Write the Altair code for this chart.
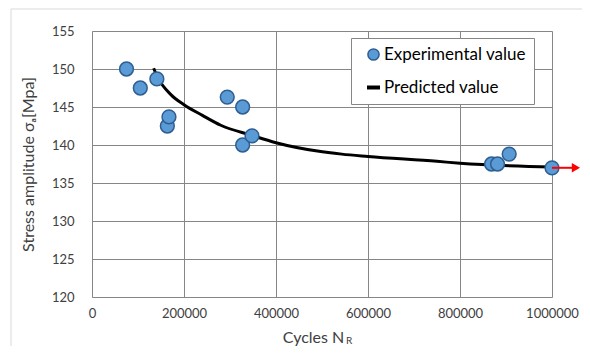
import altair as alt
import pandas as pd

# Experimental points (cycles, stress amplitude)
exp_cycles = [75000, 105000, 141000, 163800, 167300, 294000, 327500, 327500, 347800,
              868600, 881600, 906900, 1000000]
exp_stress = [150.0, 147.5, 148.7, 142.5, 143.7, 146.3, 145.0, 140.0, 141.2,
              137.5, 137.5, 138.8, 137.0]

# Predicted curve
pred_cycles = [134000, 143700, 172000, 200000, 240000, 280000, 345700, 400000,
               490000, 543000, 600000, 750000, 800000, 1000000]
pred_stress = [150.1, 148.8, 146.6, 145.3, 143.9, 142.6, 141.3, 140.3,
               139.2, 138.8, 138.5, 137.85, 137.6, 137.1]

# Run-out arrow
arrow_start = [1000000]
arrow_end = [1052000]
arrow_stress = [137.0]

series_names = ["Experimental value", "Predicted value"]
y_ticks = [120, 125, 130, 135, 140, 145, 150, 155]
x_ticks = [0, 200000, 400000, 600000, 800000, 1000000]

FONT = "Lato"
GRID = "#868686"
TXT = "#404040"
BLUE = "#5B9BD5"
DBLUE = "#2E5E92"

exp_df = pd.DataFrame({"N": exp_cycles, "S": exp_stress})
pred_df = pd.DataFrame({"N": pred_cycles, "S": pred_stress})
leg_df = pd.DataFrame({"N": [exp_cycles[0], pred_cycles[0]],
                       "S": [exp_stress[0], pred_stress[0]],
                       "series": series_names})
arrow_df = pd.DataFrame({"N": arrow_start, "N2": arrow_end, "S": arrow_stress})
one = pd.DataFrame({"a": [0]})

xscale = alt.Scale(domain=[0, 1000000], nice=False, zero=False)
yscale = alt.Scale(domain=[120, 155], nice=False, zero=False)

xaxis = alt.Axis(values=x_ticks, format="d", grid=True, gridColor=GRID, gridWidth=1,
                 ticks=False, domain=False, labelFont=FONT, labelFontSize=13,
                 labelColor=TXT, labelPadding=10, labelBaseline="top",
                 labelFlush=False, labelOverlap=False, labelBound=False,
                 title="Cycles N", titleFont=FONT, titleFontSize=16, titleFontWeight="normal",
                 titleColor=TXT, titleX=221, titleY=45, titleAlign="center",
                 titleBaseline="alphabetic")
yaxis = alt.Axis(values=y_ticks, grid=True, gridColor=GRID, gridWidth=1,
                 ticks=False, domain=False, labelFont=FONT, labelFontSize=13,
                 labelColor=TXT, labelPadding=18, labelOverlap=False, labelFlush=False,
                 labelBound=False,
                 title="Stress amplitude σₐ[Mpa]", titleFont=FONT, titleFontSize=16,
                 titleFontWeight="normal", titleColor=TXT, titleX=-64, titleY=133,
                 titleAlign="center", titleBaseline="middle", titleAngle=-90)

X = alt.X("N:Q", scale=xscale, axis=xaxis)
Y = alt.Y("S:Q", scale=yscale, axis=yaxis)

is_pred = "datum.value === 'Predicted value'"
legend = alt.Legend(
    orient="none", legendX=259, legendY=7, title=None,
    strokeColor=GRID, fillColor="white", padding=8, cornerRadius=0,
    labelFont=FONT, labelFontSize=17, labelColor="black", labelOffset=2,
    rowPadding=14, symbolOffset=6, symbolOpacity=1,
    symbolStrokeWidth={"expr": f"{is_pred} ? 4 : 1.5"},
    symbolSize={"expr": f"{is_pred} ? 170 : 125"},
)

border = alt.Chart(one).mark_rect(fill=None, stroke="#D9D9D9", strokeWidth=1).encode(
    x=alt.value(-81), x2=alt.value(700), y=alt.value(-22), y2=alt.value(500))

line = alt.Chart(pred_df).mark_line(color="black", strokeWidth=3, interpolate="monotone").encode(
    x=X, y=Y)

pts = alt.Chart(exp_df).mark_point(filled=True, size=190, opacity=1, color=BLUE,
                                   stroke=DBLUE, strokeWidth=1.5).encode(x=X, y=Y)

# invisible layer that only drives the legend
leg = alt.Chart(leg_df).mark_point(filled=False, opacity=0).encode(
    x=X, y=Y,
    shape=alt.Shape("series:N", scale=alt.Scale(domain=series_names, range=["circle", "stroke"]),
                    legend=legend),
    fill=alt.Fill("series:N", scale=alt.Scale(domain=series_names, range=[BLUE, "#000000"]),
                  legend=legend),
    stroke=alt.Stroke("series:N", scale=alt.Scale(domain=series_names, range=[DBLUE, "#000000"]),
                      legend=legend),
)

arrow = alt.Chart(arrow_df).mark_rule(color="red", strokeWidth=2).encode(
    x=X, x2="N2:Q", y=Y)
head = alt.Chart(arrow_df).mark_point(shape="triangle-right", filled=True, color="red",
                                      size=90, opacity=1).encode(
    x=alt.X("N2:Q", scale=xscale, axis=xaxis), y=Y)

sub = alt.Chart(one).mark_text(text="R", font=FONT, fontSize=10, color=TXT,
                               align="left", baseline="alphabetic").encode(
    x=alt.value(254), y=alt.value(313))

chart = alt.layer(border, line, pts, leg, arrow, head, sub).properties(
    width=460, height=266,
    autosize=alt.AutoSizeParams(type="none"),
    padding={"left": 84, "top": 23, "right": 30, "bottom": 49},
).configure_view(stroke=GRID, strokeWidth=1).configure(background="white")

chart.save("out.html", embed_options={"renderer": "svg", "actions": False})
